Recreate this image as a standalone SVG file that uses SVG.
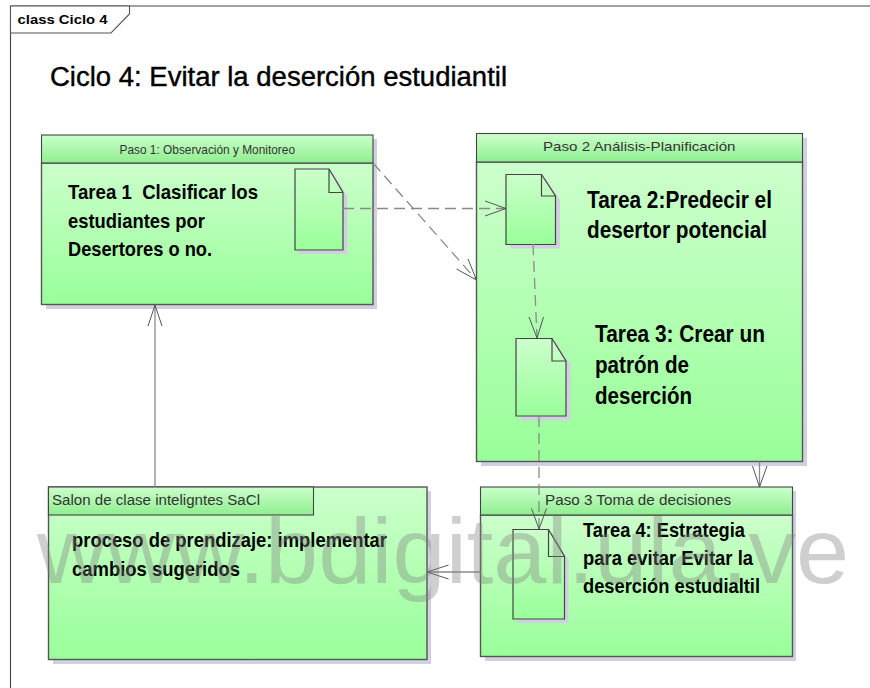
<svg xmlns="http://www.w3.org/2000/svg" width="870" height="688" viewBox="0 0 870 688">
<style>
text{font-family:"Liberation Sans",Arial,sans-serif;fill:#000}
.box{fill:url(#g);stroke:#555;stroke-width:1.4}
.hd{fill:url(#gh);stroke:#444;stroke-width:1.1}
.ln{stroke:#222;stroke-width:1.1}
.sh{fill:#cfd1e0}
.doc{fill:url(#g);stroke:#444;stroke-width:1.2}
.fold{fill:none;stroke:#444;stroke-width:1.2}
.t{font-size:21px;font-weight:700}
.u{font-size:23px}
.s{font-size:13.5px;fill:#333}
.c{fill:none;stroke:#8a8a8a;stroke-width:1.3}
.d{stroke-dasharray:11 6}
.a{fill:none;stroke:#555;stroke-width:1}
</style>
<defs>
<linearGradient id="g" x1="0" y1="0" x2="0" y2="1"><stop offset="0" stop-color="#ccffcc"/><stop offset="1" stop-color="#99ff99"/></linearGradient>
<linearGradient id="gh" x1="0" y1="0" x2="0" y2="1"><stop offset="0" stop-color="#ccffcc"/><stop offset="1" stop-color="#8fef8f"/></linearGradient>
</defs>
<rect width="870" height="688" fill="#fff"/>
<g id="frame">
<path d="M870 6H10.500V688" fill="none" stroke="#444" stroke-width="1.100"/>
<path d="M10.500 6H129.500V14L111 33H10.500Z" fill="#fff" stroke="#555" stroke-width="1.100"/>
<text x="17.500" y="23.500" textLength="90" lengthAdjust="spacingAndGlyphs" style="font-size:12.500px;font-weight:700">class Ciclo 4</text>
</g>
<text id="title" x="50" y="86" textLength="457" lengthAdjust="spacingAndGlyphs" style="font-size:27px;stroke:#000;stroke-width:.4">Ciclo 4: Evitar la deserción estudiantil</text>

<g id="paso1">
<rect class="sh" x="46" y="139" width="331" height="170"/>
<rect class="box" x="41.500" y="163" width="331.500" height="141.500"/>
<rect class="hd" x="41.500" y="135" width="331.500" height="28"/>
<text class="s" x="119.500" y="154" textLength="175.500" lengthAdjust="spacingAndGlyphs">Paso 1: Observación y Monitoreo</text>
<text class="t" x="68" y="199" xml:space="preserve" textLength="190" lengthAdjust="spacingAndGlyphs">Tarea 1  Clasificar los</text>
<text class="t" x="68" y="228" textLength="137" lengthAdjust="spacingAndGlyphs">estudiantes por</text>
<text class="t" x="68" y="256" textLength="144" lengthAdjust="spacingAndGlyphs">Desertores o no.</text>
<g id="doc1">
<path class="sh" d="M299 173H333L347.500 196.500V254H299Z"/>
<path class="doc" d="M295 169H329L343 192.500V250H295Z"/>
<path class="fold" d="M329 169V192.500H343"/>
</g>
</g>

<g id="paso2">
<rect class="sh" x="481" y="138" width="326" height="328"/>
<rect class="box" x="476.500" y="162" width="326" height="299.500"/>
<rect class="hd" x="476.500" y="133.500" width="326" height="28.500"/>
<text class="s" x="543" y="151" textLength="192.500" lengthAdjust="spacingAndGlyphs">Paso 2 Análisis-Planificación</text>
<text class="t u" x="587" y="207.500" textLength="185" lengthAdjust="spacingAndGlyphs">Tarea 2:Predecir el</text>
<text class="t u" x="587" y="238" textLength="180" lengthAdjust="spacingAndGlyphs">desertor potencial</text>
<text class="t u" x="595" y="341.500" textLength="170" lengthAdjust="spacingAndGlyphs">Tarea 3: Crear un</text>
<text class="t u" x="595" y="373" textLength="94" lengthAdjust="spacingAndGlyphs">patrón de</text>
<text class="t u" x="595" y="404" textLength="97" lengthAdjust="spacingAndGlyphs">deserción</text>
<g id="doc2">
<path class="sh" d="M510 178H545.500L560 200V248.500H510Z"/>
<path class="doc" d="M506 174.500H541.500L555.500 196V244.500H506Z"/>
<path class="fold" d="M541.500 174.500V196H555.500"/>
</g>
<g id="doc3">
<path class="sh" d="M520.500 343H556.500L570.500 365V420.500H520.500Z"/>
<path class="doc" d="M516 338.500H552L566 361V416H516Z"/>
<path class="fold" d="M552 338.500V361H566"/>
</g>
</g>

<g id="salon">
<rect class="sh" x="53" y="491" width="378" height="173"/>
<rect class="box" x="48.500" y="487" width="378.500" height="172.500"/>
<rect class="hd" x="48.500" y="487" width="265" height="28"/>
<text class="s" x="52" y="505" textLength="208" lengthAdjust="spacingAndGlyphs" style="font-size:14px">Salon de clase inteligntes SaCl</text>
<text class="t" x="72" y="547" textLength="315" lengthAdjust="spacingAndGlyphs">proceso de prendizaje: implementar</text>
<text class="t" x="72" y="575.500" textLength="168" lengthAdjust="spacingAndGlyphs">cambios sugeridos</text>
</g>

<g id="paso3">
<rect class="sh" x="485" y="491" width="311" height="170"/>
<rect class="box" x="480.500" y="515" width="312" height="141.500"/>
<rect class="hd" x="480.500" y="487" width="312" height="28"/>
<text class="s" x="545" y="505" textLength="186" lengthAdjust="spacingAndGlyphs" style="font-size:14px">Paso 3 Toma de decisiones</text>
<text class="t" x="583" y="537" textLength="162" lengthAdjust="spacingAndGlyphs">Tarea 4: Estrategia</text>
<text class="t" x="583" y="565" textLength="170" lengthAdjust="spacingAndGlyphs">para evitar Evitar la</text>
<text class="t" x="583" y="593" textLength="177" lengthAdjust="spacingAndGlyphs">deserción estudialtil</text>
<g id="doc4">
<path class="sh" d="M517 533H552.500L568.500 560V623H517Z"/>
<path class="doc" d="M513 529.500H548.500L564.500 556.500V619H513Z"/>
<path class="fold" d="M548.500 529.500V556.500H564.500"/>
</g>
</g>

<g id="connectors">
<path class="c d" d="M343 208.500H506"/>
<path class="a" d="M485 201L506 208.500L485 216"/>
<path class="c d" d="M373 163L476.500 280"/>
<path class="a" d="M456.500 269L476.500 280L468 259"/>
<path class="c d" d="M533 244L537 338"/>
<path class="a" d="M529 317L537 338L543.500 317"/>
<path class="c d" d="M539 416V529"/>
<path class="a" d="M531.500 508.500L539 529L546.500 508.500"/>
<path class="c" d="M155 487V305"/>
<path class="a" d="M148 326L155 305L162 326"/>
<path class="c" d="M480.500 572H427"/>
<path class="a" d="M448.500 565L427 572L448.500 579"/>
<path class="c" d="M759.500 461.500V487"/>
<path class="a" d="M752.500 466L759.500 487L767 466"/>
</g>

<text id="watermark" x="37" y="583" textLength="812" lengthAdjust="spacingAndGlyphs" style="font-size:93px;fill:#808080;fill-opacity:.38">www.bdigital.ula.ve</text>
</svg>
